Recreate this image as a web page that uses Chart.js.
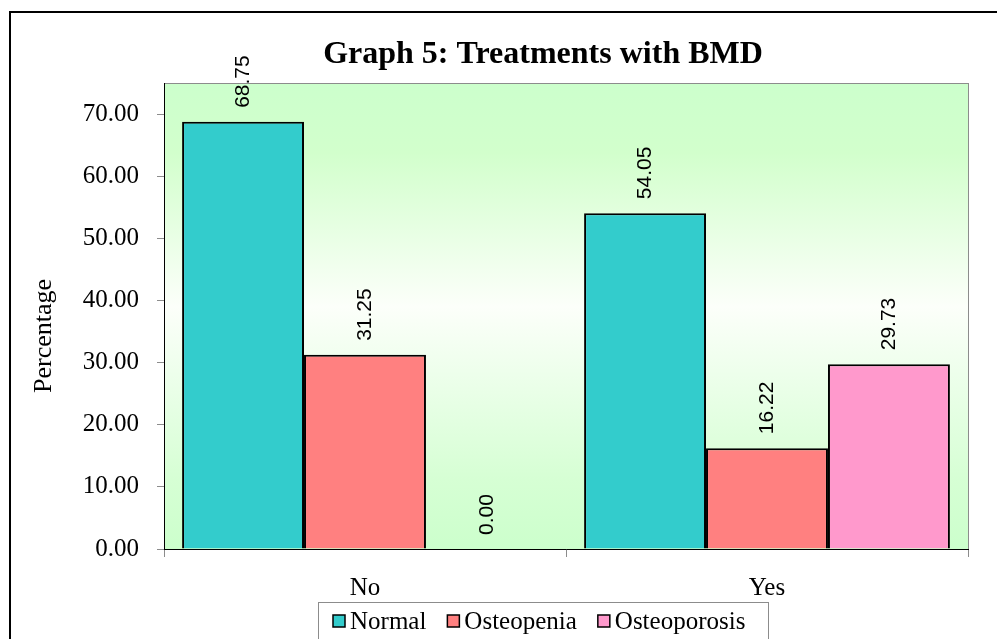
<!DOCTYPE html>
<html>
<head>
<meta charset="utf-8">
<script src="https://cdn.jsdelivr.net/npm/chart.js@4"></script>
<style>
  html, body { margin: 0; padding: 0; background: #fff; }
  #wrap { width: 997px; height: 639px; position: relative; }
</style>
</head>
<body>
<div id="wrap"><canvas id="bmdChart" width="997" height="639"></canvas></div>
<script>
// chart data
const categories = ["No", "Yes"];
const seriesNames = ["Normal", "Osteopenia", "Osteoporosis"];
const normalValues = [68.75, 54.05];
const osteopeniaValues = [31.25, 16.22];
const osteoporosisValues = [0.0, 29.73];
const yTicks = [0, 10, 20, 30, 40, 50, 60, 70];
const chartTitle = "Graph 5: Treatments with BMD";
const yTitle = "Percentage";

const seriesColors = ["#33CCCC", "#FF8080", "#FF99CC"];
const serif = "'Liberation Serif', 'Times New Roman', serif";
const centerX = 543; // title and legend are centred here in the original

// outer frame + gradient plot background + titles
const backgroundPlugin = {
  id: "background",
  beforeDraw(chart) {
    const c = chart.ctx;
    const a = chart.chartArea;
    c.save();
    c.fillStyle = "#fff";
    c.fillRect(0, 0, chart.width, chart.height);
    c.strokeStyle = "#000";
    c.lineWidth = 2;
    c.strokeRect(10, 12, chart.width + 20, chart.height + 20);

    const g = c.createLinearGradient(0, a.top, 0, a.bottom);
    g.addColorStop(0, "#CCFFCC");
    g.addColorStop(0.15, "#D2FFCC");
    g.addColorStop(0.48, "#FCFFFA");
    g.addColorStop(0.85, "#D6FFD4");
    g.addColorStop(1, "#CCFFCC");
    c.fillStyle = g;
    c.fillRect(a.left, a.top, a.right - a.left, a.bottom - a.top);
    c.strokeStyle = "#8c8c8c";
    c.lineWidth = 1;
    c.strokeRect(a.left + 0.5, a.top + 0.5, a.right - a.left, a.bottom - a.top);

    c.fillStyle = "#000";
    c.textAlign = "center";
    c.textBaseline = "middle";
    c.font = "bold 32px " + serif;
    c.fillText(chartTitle, centerX, 55);

    c.font = "26px " + serif;
    c.translate(44, 336);
    c.rotate(-Math.PI / 2);
    c.fillText(yTitle, 0, 0);
    c.restore();
  },
};

// rotated value labels above bars
const valueLabels = {
  id: "valueLabels",
  afterDatasetsDraw(chart) {
    const c = chart.ctx;
    c.save();
    c.font = "21px 'Liberation Sans', Arial, sans-serif";
    c.fillStyle = "#000";
    c.textAlign = "left";
    c.textBaseline = "middle";
    chart.data.datasets.forEach((ds, i) => {
      chart.getDatasetMeta(i).data.forEach((bar, j) => {
        c.save();
        c.translate(bar.x, bar.y - 14);
        c.rotate(-Math.PI / 2);
        c.fillText(ds.data[j].toFixed(2), 0, 0);
        c.restore();
      });
    });
    c.restore();
  },
};

// boxed legend like the excel one
const boxLegend = {
  id: "boxLegend",
  afterDraw(chart) {
    const c = chart.ctx;
    c.save();
    c.font = "25px " + serif;
    c.textBaseline = "middle";
    c.textAlign = "left";
    const boxW = 450, top = 602;
    const left = centerX - boxW / 2;
    let x = left + 15;
    const y = 621;
    chart.data.datasets.forEach((ds) => {
      c.fillStyle = ds.backgroundColor;
      c.fillRect(x, y - 6, 12, 12);
      c.strokeStyle = "#000";
      c.lineWidth = 1.5;
      c.strokeRect(x, y - 6, 12, 12);
      c.fillStyle = "#000";
      c.fillText(ds.label, x + 17, y + 1);
      x += 17 + c.measureText(ds.label).width + 21;
    });
    c.strokeStyle = "#8c8c8c";
    c.lineWidth = 1;
    c.strokeRect(left + 0.5, top + 0.5, boxW, 60);
    c.restore();
  },
};

new Chart(document.getElementById("bmdChart"), {
  type: "bar",
  data: {
    labels: categories,
    datasets: [
      { label: seriesNames[0], data: normalValues, backgroundColor: seriesColors[0] },
      { label: seriesNames[1], data: osteopeniaValues, backgroundColor: seriesColors[1] },
      { label: seriesNames[2], data: osteoporosisValues, backgroundColor: seriesColors[2] },
    ],
  },
  options: {
    responsive: false,
    animation: false,
    layout: { padding: { left: 0, right: 29, top: 83, bottom: 40 } },
    datasets: {
      bar: {
        borderColor: "#000",
        borderWidth: 2,
        categoryPercentage: 0.91,
        barPercentage: 1.0,
      },
    },
    plugins: {
      legend: { display: false },
      tooltip: { enabled: false },
      title: { display: false },
    },
    scales: {
      x: {
        grid: {
          offset: true,
          drawOnChartArea: false,
          tickLength: 8,
          color: "#8c8c8c",
        },
        border: { color: "#000", width: 1 },
        ticks: { color: "#000", font: { family: serif, size: 25 }, padding: 16 },
        afterFit(scale) { scale.height = 50; },
      },
      y: {
        min: 0,
        max: 75,
        afterBuildTicks(scale) {
          scale.ticks = yTicks.map((v) => ({ value: v }));
        },
        grid: {
          drawOnChartArea: false,
          tickLength: 7,
          color: "#8c8c8c",
        },
        border: { color: "#000", width: 1 },
        ticks: {
          color: "#000",
          font: { family: serif, size: 25 },
          padding: 18,
          callback: (v) => Number(v).toFixed(2),
        },
        afterFit(scale) { scale.width = 164; },
      },
    },
  },
  plugins: [backgroundPlugin, valueLabels, boxLegend],
});
</script>
</body>
</html>
